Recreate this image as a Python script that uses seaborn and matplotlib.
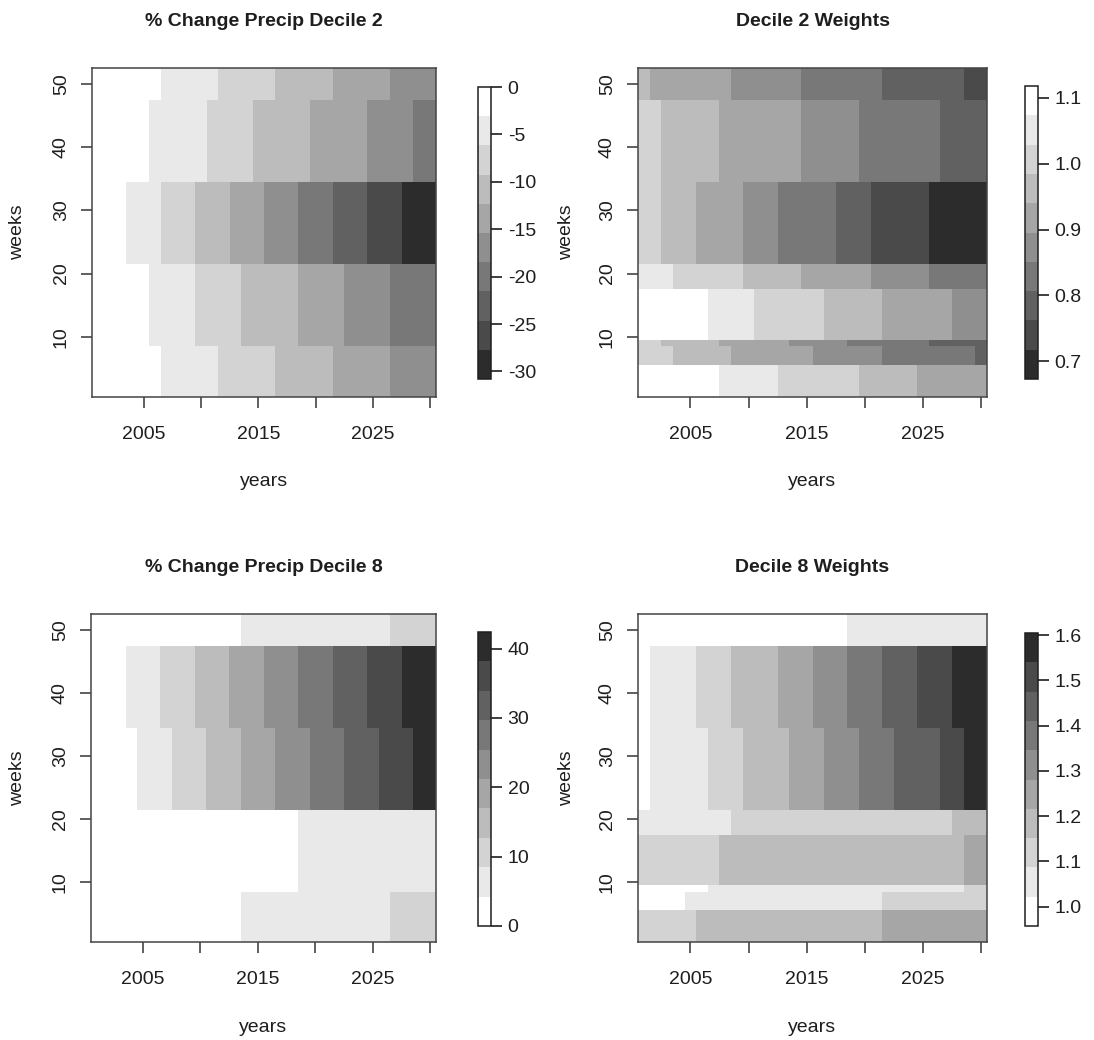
import numpy as np
import pandas as pd
import matplotlib
matplotlib.use("Agg")
import matplotlib.pyplot as plt
from matplotlib.colors import ListedColormap
import seaborn as sns

sns.set_style("white")
plt.rcParams["font.family"] = ["Liberation Sans", "DejaVu Sans"]

years = list(range(2001, 2031))
weeks = list(range(1, 53))

# ten grey shades, lightest first
greys = ["#ffffff", "#e9e9e9", "#d3d3d3", "#bcbcbc", "#a6a6a6",
         "#8f8f8f", "#787878", "#616161", "#4a4a4a", "#2c2c2c"]

# ---- % change in precipitation, decile 2 -------------------------------
chg2_bands = [(1, 8), (9, 21), (22, 34), (35, 47), (48, 52)]
chg2_runs = [  # (first year of block, value)
    [(2001, -1.5), (2007, -4.6), (2012, -7.7), (2017, -10.8), (2022, -13.9), (2027, -16.9)],
    [(2001, -1.5), (2006, -4.6), (2010, -7.7), (2014, -10.8), (2019, -13.9), (2023, -16.9), (2027, -20.0)],
    [(2001, -1.5), (2004, -4.6), (2007, -7.7), (2010, -10.8), (2013, -13.9), (2016, -16.9),
     (2019, -20.0), (2022, -23.1), (2025, -26.2), (2028, -29.3)],
    [(2001, -1.5), (2006, -4.6), (2011, -7.7), (2015, -10.8), (2020, -13.9), (2025, -16.9), (2029, -20.0)],
    [(2001, -1.5), (2007, -4.6), (2012, -7.7), (2017, -10.8), (2022, -13.9), (2027, -16.9)],
]
chg2_lim = (-30.8, 0.0)
chg2_ticks = [0, -5, -10, -15, -20, -25, -30]

# ---- decile 2 weights ---------------------------------------------------
wt2_bands = [(1, 5), (6, 8), (9, 9), (10, 17), (18, 21), (22, 34), (35, 47), (48, 52)]
wt2_runs = [
    [(2001, 1.096), (2008, 1.051), (2013, 1.007), (2020, 0.962), (2025, 0.918)],
    [(2001, 1.007), (2004, 0.962), (2009, 0.918), (2016, 0.873), (2022, 0.829), (2030, 0.784)],
    [(2001, 1.007), (2003, 0.962), (2008, 0.918), (2014, 0.873), (2019, 0.829), (2026, 0.784)],
    [(2001, 1.096), (2007, 1.051), (2011, 1.007), (2017, 0.962), (2022, 0.918), (2028, 0.873)],
    [(2001, 1.051), (2004, 1.007), (2010, 0.962), (2015, 0.918), (2021, 0.873), (2026, 0.829)],
    [(2001, 1.007), (2003, 0.962), (2006, 0.918), (2010, 0.873), (2013, 0.829), (2018, 0.784),
     (2021, 0.740), (2026, 0.695)],
    [(2001, 1.007), (2003, 0.962), (2008, 0.918), (2015, 0.873), (2020, 0.829), (2027, 0.784)],
    [(2001, 0.962), (2002, 0.918), (2009, 0.873), (2015, 0.829), (2022, 0.784), (2029, 0.740)],
]
wt2_lim = (0.673, 1.118)
wt2_ticks = [0.7, 0.8, 0.9, 1.0, 1.1]

# ---- % change in precipitation, decile 8 -------------------------------
chg8_bands = [(1, 8), (9, 21), (22, 34), (35, 47), (48, 52)]
chg8_runs = [
    [(2001, 2.1), (2014, 6.4), (2027, 10.6)],
    [(2001, 2.1), (2019, 6.4)],
    [(2001, 2.1), (2005, 6.4), (2008, 10.6), (2011, 14.8), (2014, 19.1), (2017, 23.3),
     (2020, 27.6), (2023, 31.8), (2026, 36.0), (2029, 40.3)],
    [(2001, 2.1), (2004, 6.4), (2007, 10.6), (2010, 14.8), (2013, 19.1), (2016, 23.3),
     (2019, 27.6), (2022, 31.8), (2025, 36.0), (2028, 40.3)],
    [(2001, 2.1), (2014, 6.4), (2027, 10.6)],
]
chg8_lim = (0.0, 42.4)
chg8_ticks = [0, 10, 20, 30, 40]

# ---- decile 8 weights ---------------------------------------------------
wt8_bands = [(1, 5), (6, 8), (9, 9), (10, 17), (18, 21), (22, 34), (35, 47), (48, 52)]
wt8_runs = [
    [(2001, 1.119), (2006, 1.184), (2022, 1.248)],
    [(2001, 0.989), (2005, 1.054), (2022, 1.119)],
    [(2001, 0.989), (2007, 1.054), (2029, 1.119)],
    [(2001, 1.119), (2008, 1.184), (2029, 1.248)],
    [(2001, 1.054), (2009, 1.119), (2028, 1.184)],
    [(2001, 0.989), (2002, 1.054), (2007, 1.119), (2010, 1.184), (2014, 1.248), (2017, 1.313),
     (2020, 1.378), (2023, 1.443), (2027, 1.508), (2029, 1.573)],
    [(2001, 0.989), (2002, 1.054), (2006, 1.119), (2009, 1.184), (2013, 1.248), (2016, 1.313),
     (2019, 1.378), (2022, 1.443), (2025, 1.508), (2028, 1.573)],
    [(2001, 0.989), (2019, 1.054)],
]
wt8_lim = (0.957, 1.605)
wt8_ticks = [1.0, 1.1, 1.2, 1.3, 1.4, 1.5, 1.6]


def expand(bands, runs):
    """Turn week bands and yearly blocks into a weeks x years table."""
    grid = np.full((len(weeks), len(years)), np.nan)
    for (w0, w1), blocks in zip(bands, runs):
        for j, (y0, val) in enumerate(blocks):
            y1 = blocks[j + 1][0] - 1 if j + 1 < len(blocks) else years[-1]
            grid[w0 - 1:w1, y0 - years[0]:y1 - years[0] + 1] = val
    return pd.DataFrame(grid, index=weeks, columns=years)


W, H = 1094, 1040
fig = plt.figure(figsize=(W / 100, H / 100), dpi=100, facecolor="white")


def box(x0, y0, x1, y1):
    return [x0 / W, 1 - y1 / H, (x1 - x0) / W, (y1 - y0) / H]


ink = "#1e1e1e"
frame = "#444444"
fs = 14

panels = [
    dict(df=expand(chg2_bands, chg2_runs), lim=chg2_lim, ticks=chg2_ticks,
         fmt="{:g}", light_high=True, title="% Change Precip Decile 2",
         ax=(92, 68, 436, 397), cax=(478, 87, 491, 379), ylab_x=18, title_y=22, xlab_y=482),
    dict(df=expand(wt2_bands, wt2_runs), lim=wt2_lim, ticks=wt2_ticks,
         fmt="{:.1f}", light_high=True, title="Decile 2 Weights",
         ax=(638, 68, 987, 397), cax=(1025, 86, 1038, 379), ylab_x=567, title_y=22, xlab_y=482),
    dict(df=expand(chg8_bands, chg8_runs), lim=chg8_lim, ticks=chg8_ticks,
         fmt="{:g}", light_high=False, title="% Change Precip Decile 8",
         ax=(91, 614, 436, 942), cax=(478, 632, 491, 926), ylab_x=18, title_y=567, xlab_y=1027),
    dict(df=expand(wt8_bands, wt8_runs), lim=wt8_lim, ticks=wt8_ticks,
         fmt="{:.1f}", light_high=False, title="Decile 8 Weights",
         ax=(638, 614, 987, 942), cax=(1025, 633, 1038, 926), ylab_x=567, title_y=567, xlab_y=1027),
]

xtick_years = [2005, 2010, 2015, 2020, 2025, 2030]
xtick_text = ["2005", "", "2015", "", "2025", ""]
ytick_weeks = [10, 20, 30, 40, 50]

for p in panels:
    ax = fig.add_axes(box(*p["ax"]))
    cax = fig.add_axes(box(*p["cax"]))
    colours = greys[::-1] if p["light_high"] else greys
    sns.heatmap(p["df"], ax=ax, cbar_ax=cax, cmap=ListedColormap(colours),
                vmin=p["lim"][0], vmax=p["lim"][1],
                xticklabels=False, yticklabels=False)
    ax.invert_yaxis()
    ax.set_xlim(0, len(years))
    ax.set_ylim(0, len(weeks))

    ax.set_xticks([y - years[0] + 0.5 for y in xtick_years])
    ax.set_xticklabels(xtick_text)
    ax.set_yticks([w - 0.5 for w in ytick_weeks])
    ax.set_yticklabels([str(w) for w in ytick_weeks], rotation=90, va="center")
    ax.tick_params(axis="both", direction="out", length=8, width=1.2,
                   color=frame, labelsize=fs, labelcolor=ink)
    ax.tick_params(axis="x", pad=13, bottom=True)
    ax.tick_params(axis="y", pad=8, left=True)
    ax.set_xlabel("")
    ax.set_ylabel("")
    for s in ax.spines.values():
        s.set_visible(True)
        s.set_color(frame)
        s.set_linewidth(1.1)

    cb = ax.collections[0].colorbar
    cb.outline.set_visible(True)
    cb.outline.set_linewidth(1.1)
    cb.outline.set_edgecolor(ink)
    cb.set_ticks(p["ticks"])
    cb.set_ticklabels([p["fmt"].format(t) for t in p["ticks"]])
    cax.tick_params(direction="out", length=8, width=1.2, color=ink,
                    labelsize=fs, labelcolor=ink, pad=4, right=True)

    cx = (p["ax"][0] + p["ax"][2]) / 2
    fig.text(cx / W, 1 - p["title_y"] / H, p["title"], ha="center", va="center",
             fontsize=14, fontweight="bold", color=ink)
    fig.text(cx / W, 1 - p["xlab_y"] / H, "years", ha="center", va="center",
             fontsize=fs, color=ink)
    fig.text(p["ylab_x"] / W, 1 - ((p["ax"][1] + p["ax"][3]) / 2) / H, "weeks",
             ha="center", va="center", rotation=90, fontsize=fs, color=ink)

fig.savefig("out.png", dpi=100, facecolor="white")
